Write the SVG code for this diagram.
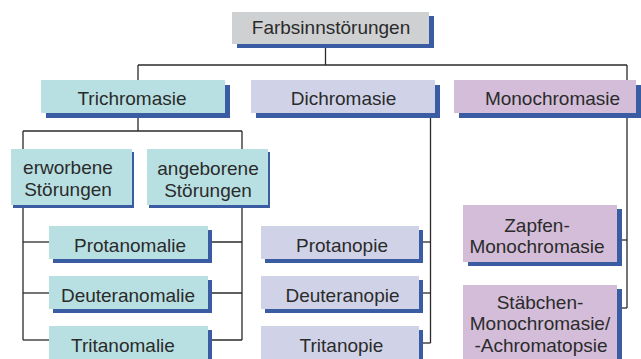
<svg xmlns="http://www.w3.org/2000/svg" width="641" height="359" viewBox="0 0 641 359">
<style>
.sh{fill:#3a5ca3}
.g{fill:#cfd0d2}
.t{fill:#b8e0e2}
.l{fill:#d0d3e8}
.p{fill:#d3bdd9}
text{font-family:"Liberation Sans",Arial,sans-serif;font-size:19px;fill:#2b2b2b;text-anchor:middle}
.c line{stroke:#2a2a2a;stroke-width:1.3}
</style>
<g class="c" id="connectors">
<line x1="325.5" y1="44" x2="325.5" y2="65"/>
<line x1="138" y1="65" x2="627" y2="65"/>
<line x1="138" y1="65" x2="138" y2="80"/>
<line x1="627" y1="65" x2="627" y2="80"/>
<line x1="138" y1="113" x2="138" y2="131"/>
<line x1="23" y1="131" x2="242" y2="131"/>
<line x1="23" y1="131" x2="23" y2="149"/>
<line x1="242" y1="131" x2="242" y2="149"/>
<line x1="23" y1="205" x2="23" y2="340"/>
<line x1="242" y1="205" x2="242" y2="340"/>
<line x1="23" y1="242" x2="49" y2="242"/>
<line x1="23" y1="293" x2="49" y2="293"/>
<line x1="23" y1="340" x2="49" y2="340"/>
<line x1="208" y1="242" x2="242" y2="242"/>
<line x1="208" y1="293" x2="242" y2="293"/>
<line x1="208" y1="340" x2="242" y2="340"/>
<line x1="430.5" y1="113" x2="430.5" y2="343"/>
<line x1="419" y1="242" x2="430.5" y2="242"/>
<line x1="419" y1="293" x2="430.5" y2="293"/>
<line x1="419" y1="343" x2="430.5" y2="343"/>
<line x1="627" y1="113" x2="627" y2="308"/>
<line x1="617" y1="240" x2="627" y2="240"/>
<line x1="617" y1="308" x2="627" y2="308"/>
</g>
<g id="farbsinn">
<rect class="sh" x="237" y="16" width="197" height="32"/>
<rect class="g" x="232" y="12" width="197" height="32"/>
<text x="331" y="34">Farbsinnstörungen</text>
</g>
<g id="trichromasie">
<rect class="sh" x="46" y="85" width="184" height="33"/>
<rect class="t" x="41" y="80" width="184" height="33"/>
<text x="132" y="105">Trichromasie</text>
</g>
<g id="dichromasie">
<rect class="sh" x="256" y="85" width="184" height="33"/>
<rect class="l" x="251" y="80" width="184" height="33"/>
<text x="343.5" y="105">Dichromasie</text>
</g>
<g id="monochromasie">
<rect class="sh" x="459" y="85" width="182" height="33"/>
<rect class="p" x="454" y="80" width="182" height="33"/>
<text x="552.5" y="105">Monochromasie</text>
</g>
<g id="erworbene">
<rect class="sh" x="13" y="152" width="121" height="56"/>
<rect class="t" x="11" y="149" width="121" height="56"/>
<text x="68" y="174">erworbene</text>
<text x="68" y="196">Störungen</text>
</g>
<g id="angeborene">
<rect class="sh" x="149" y="152" width="121" height="56"/>
<rect class="t" x="147" y="149" width="121" height="56"/>
<text x="208" y="175">angeborene</text>
<text x="208" y="197">Störungen</text>
</g>
<g id="protanomalie">
<rect class="sh" x="53" y="230" width="159" height="33"/>
<rect class="t" x="49" y="226" width="159" height="33"/>
<text x="130" y="252">Protanomalie</text>
</g>
<g id="deuteranomalie">
<rect class="sh" x="53" y="280" width="159" height="33"/>
<rect class="t" x="49" y="276" width="159" height="33"/>
<text x="128" y="302">Deuteranomalie</text>
</g>
<g id="tritanomalie">
<rect class="sh" x="53" y="330" width="159" height="33"/>
<rect class="t" x="49" y="326" width="159" height="33"/>
<text x="123" y="352">Tritanomalie</text>
</g>
<g id="protanopie">
<rect class="sh" x="265" y="230" width="158" height="33"/>
<rect class="l" x="261" y="226" width="158" height="33"/>
<text x="342" y="252">Protanopie</text>
</g>
<g id="deuteranopie">
<rect class="sh" x="265" y="280" width="158" height="33"/>
<rect class="l" x="261" y="276" width="158" height="33"/>
<text x="342.5" y="302">Deuteranopie</text>
</g>
<g id="tritanopie">
<rect class="sh" x="265" y="330" width="158" height="33"/>
<rect class="l" x="261" y="326" width="158" height="33"/>
<text x="341.5" y="352">Tritanopie</text>
</g>
<g id="zapfen">
<rect class="sh" x="468" y="209" width="154" height="57"/>
<rect class="p" x="463" y="205" width="154" height="57"/>
<text x="537" y="232">Zapfen-</text>
<text x="537" y="253">Monochromasie</text>
</g>
<g id="staebchen">
<rect class="sh" x="468" y="289" width="154" height="80"/>
<rect class="p" x="463" y="285" width="154" height="80"/>
<text x="540" y="309">Stäbchen-</text>
<text x="540" y="330">Monochromasie/</text>
<text x="541" y="352">-Achromatopsie</text>
</g>
</svg>
